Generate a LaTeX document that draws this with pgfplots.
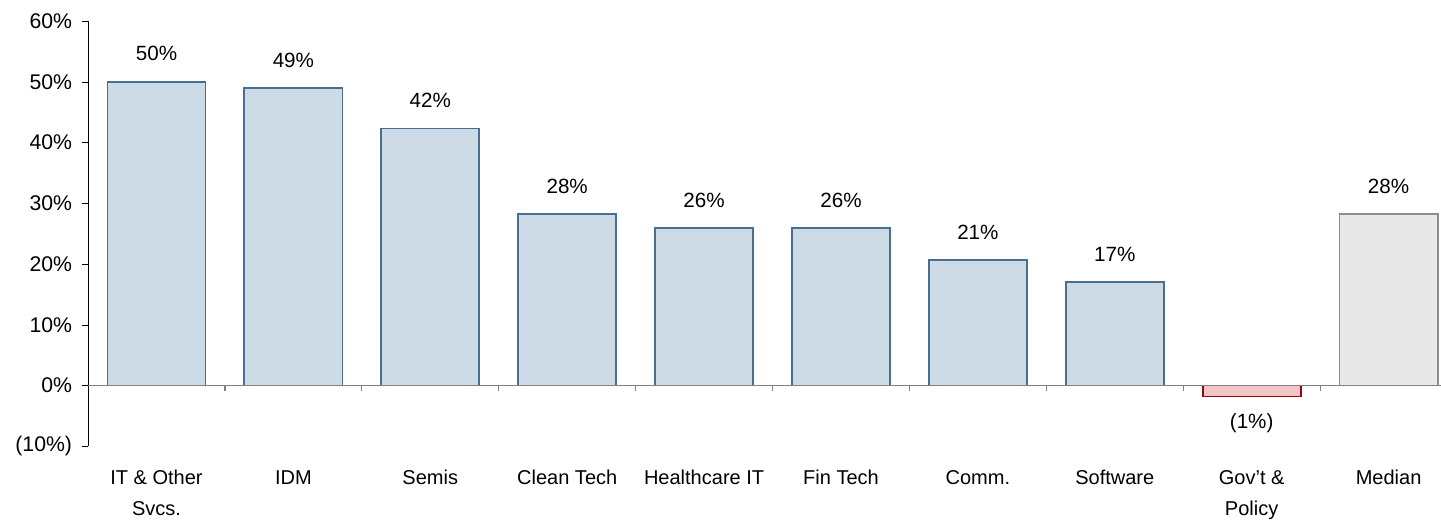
\documentclass[border=0pt]{standalone}
\usepackage{pgfplots}
\pgfplotsset{compat=1.18}
\usepackage{fontspec}
\setmainfont{Liberation Sans}

\definecolor{barblue}{RGB}{205,219,230}
\definecolor{edgeblue}{RGB}{74,110,144}
\definecolor{barpink}{RGB}{242,198,200}
\definecolor{edgered}{RGB}{140,10,10}
\definecolor{bargray}{RGB}{232,232,232}
\definecolor{edgegray}{RGB}{140,140,140}
\definecolor{axisgray}{RGB}{128,128,128}

\begin{document}
\begin{tikzpicture}
\begin{axis}[
scale only axis,
width=684pt, height=212.5pt,
xmin=0.5, xmax=10.5,
ymin=-10, ymax=60,
axis y line=left,
axis x line=bottom,
axis line style={-},
x axis line style={draw=none},
tick align=outside,
major tick length=3pt,
ytick={-10,0,10,20,30,40,50,60},
yticklabels={(10\%),0\%,10\%,20\%,30\%,40\%,50\%,60\%},
ytick style={color=black},
xtick={1,2,3,4,5,6,7,8,9,10},
xticklabels={{IT \& Other\\Svcs.},IDM,Semis,Clean Tech,Healthcare IT,Fin Tech,Comm.,Software,{Gov't \&\\Policy},Median},
major x tick style={draw=none},
xticklabel style={align=center, yshift=-5.5pt, font=\fontsize{10}{15.5}\selectfont},
yticklabel style={font=\fontsize{10.6}{12}\selectfont, xshift=-1.5pt},
ybar, bar width=49pt, bar shift=0pt,
nodes near coords,
point meta=explicit symbolic,
every node near coord/.append style={font=\fontsize{10.3}{12}\selectfont, text=black},
]
\addplot [fill=barblue, draw=edgeblue, line width=0.9pt,
  every node near coord/.append style={yshift=6.5pt}]
coordinates {
(1,50.0) [50\%]
(2,49.0) [49\%]
(3,42.3) [42\%]
(4,28.2) [28\%]
(5,25.9) [26\%]
(6,25.9) [26\%]
(7,20.6) [21\%]
(8,17.0) [17\%]
};
\addplot [fill=barpink, draw=edgered, line width=0.9pt,
  every node near coord/.append style={anchor=north, yshift=-5pt}]
coordinates {
(9,-1.8) [(1\%)]
};
\addplot [fill=bargray, draw=edgegray, line width=0.9pt,
  every node near coord/.append style={yshift=6.5pt}]
coordinates {
(10,28.2) [28\%]
};
\draw [axisgray, line width=0.6pt] (axis cs:0.5,0) -- (axis cs:10.5,0);
\draw [axisgray, line width=0.6pt] (axis cs:1.5,0) -- ++(0pt,-2.5pt);
\draw [axisgray, line width=0.6pt] (axis cs:2.5,0) -- ++(0pt,-2.5pt);
\draw [axisgray, line width=0.6pt] (axis cs:3.5,0) -- ++(0pt,-2.5pt);
\draw [axisgray, line width=0.6pt] (axis cs:4.5,0) -- ++(0pt,-2.5pt);
\draw [axisgray, line width=0.6pt] (axis cs:5.5,0) -- ++(0pt,-2.5pt);
\draw [axisgray, line width=0.6pt] (axis cs:6.5,0) -- ++(0pt,-2.5pt);
\draw [axisgray, line width=0.6pt] (axis cs:7.5,0) -- ++(0pt,-2.5pt);
\draw [axisgray, line width=0.6pt] (axis cs:8.5,0) -- ++(0pt,-2.5pt);
\draw [axisgray, line width=0.6pt] (axis cs:9.5,0) -- ++(0pt,-2.5pt);
\end{axis}
\pgfresetboundingbox
\path ([xshift=-44pt,yshift=-38pt]current axis.south west) rectangle ([xshift=-8pt,yshift=10.5pt]current axis.north east);
\end{tikzpicture}
\end{document}
